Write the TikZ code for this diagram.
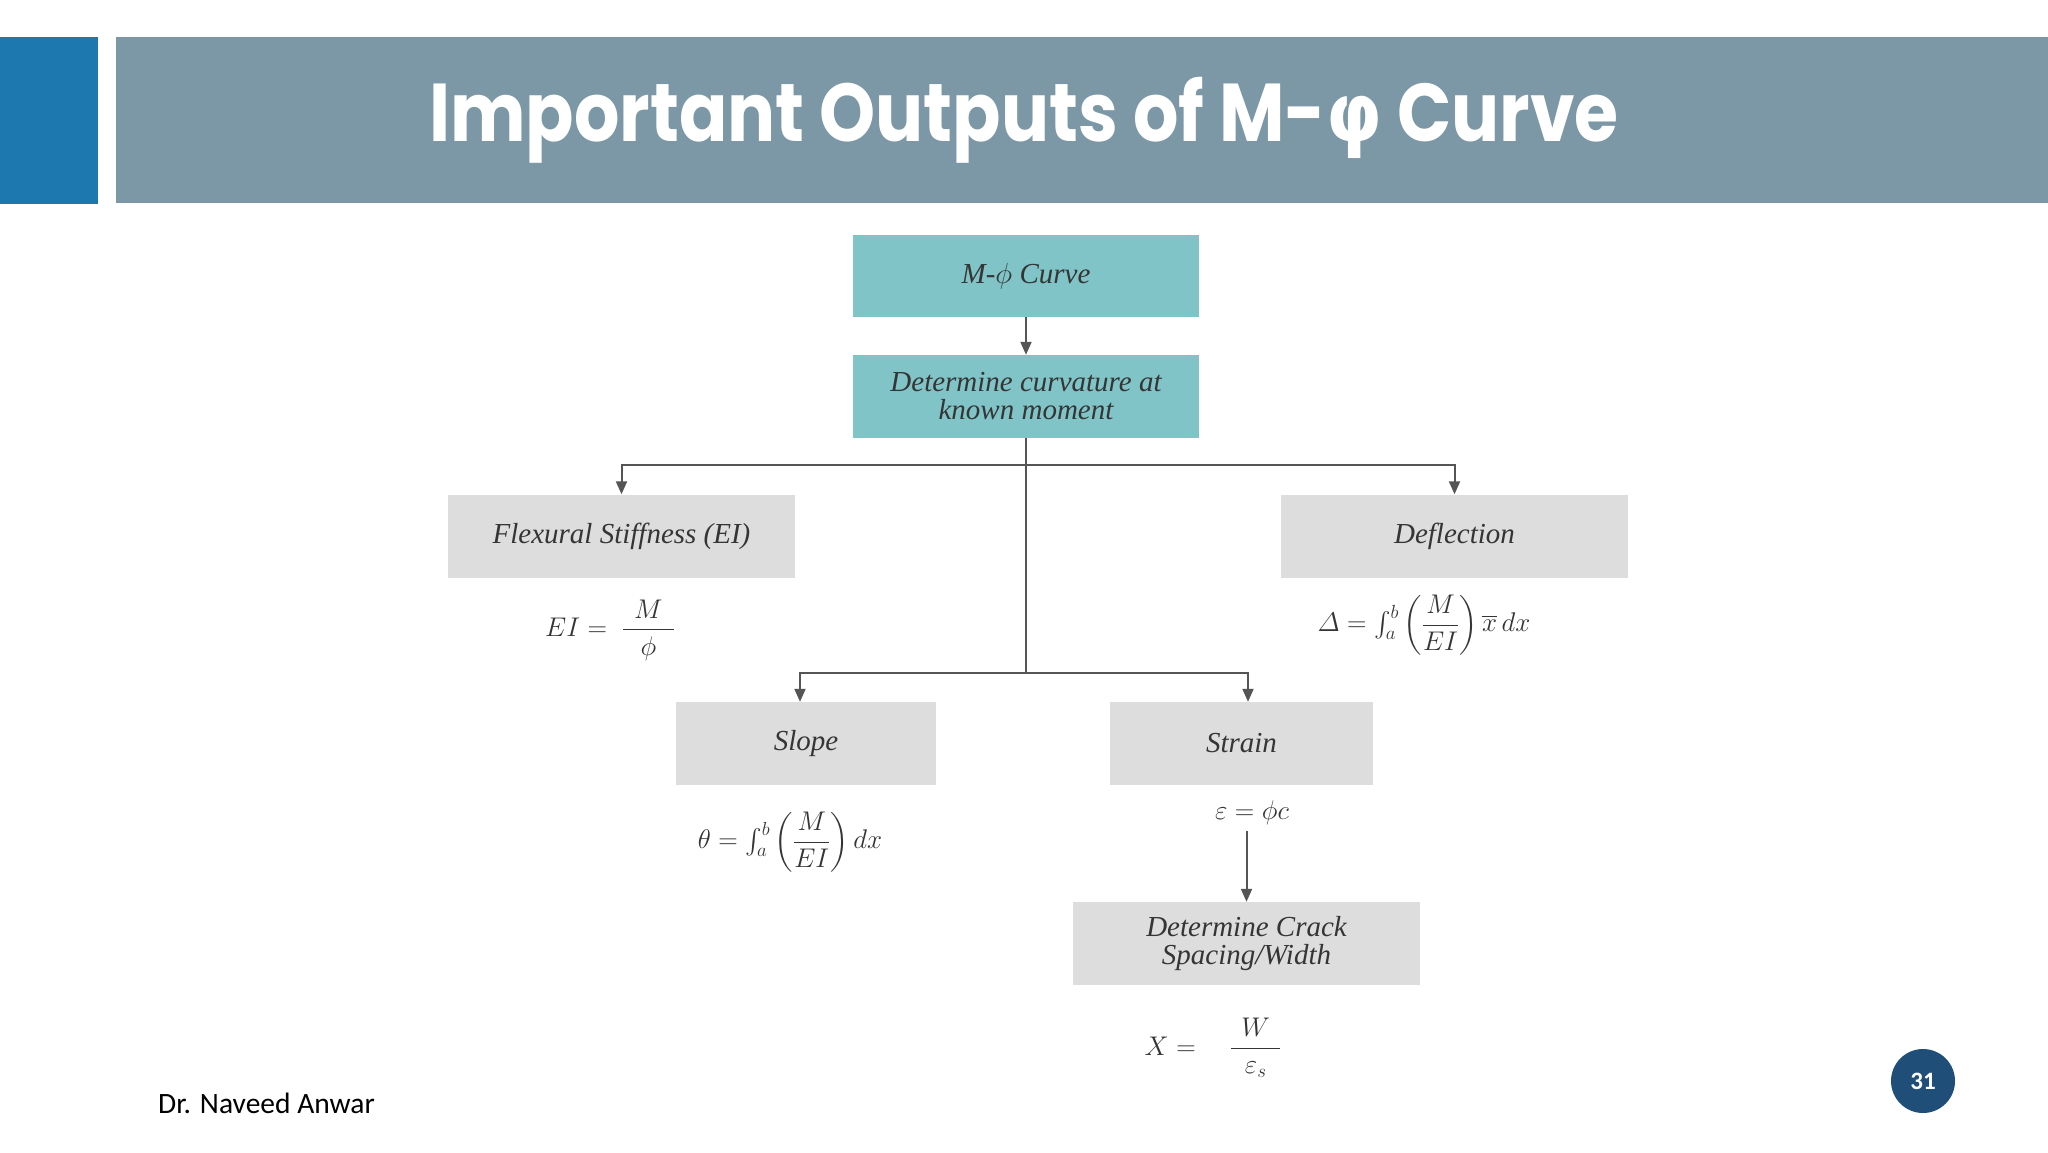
\RequirePackage{fix-cm}
\documentclass[tikz,border=0pt]{standalone}
\usepackage{amsmath}
\usepackage{fontspec}
\setmainfont{Liberation Serif}
\newfontfamily\titlefont{Poppins}
\newfontfamily\greekfont{DejaVu Sans}
\newfontfamily\calibrifont{Carlito}
\usetikzlibrary{arrows.meta}
\definecolor{barblue}{HTML}{1E78B0}
\definecolor{bargray}{HTML}{7C98A6}
\definecolor{tealfill}{HTML}{80C4C8}
\definecolor{grayfill}{HTML}{DEDDDE}
\definecolor{txt}{HTML}{353535}
\definecolor{linecol}{HTML}{555555}
\definecolor{pagecirc}{HTML}{1F4E79}
\tikzset{
  box/.style={rectangle, inner sep=0pt, align=center, text=txt,
    font=\fontsize{29}{28}\selectfont\itshape},
  tealbox/.style={box, fill=tealfill, minimum width=346pt, minimum height=82pt},
  graybox/.style={box, fill=grayfill, minimum height=83pt},
  conn/.style={draw=linecol, line width=2pt},
  arr/.style={conn, -{Triangle[length=13pt,width=11pt]}},
  eq/.style={inner sep=0pt, text=txt, font=\fontsize{27}{29}\selectfont}
}
\begin{document}
\begin{tikzpicture}[x=1pt,y=-1pt]
\useasboundingbox (0,0) rectangle (2048,1152);
\fill[white] (0,0) rectangle (2048,1152);
% title bar
\fill[barblue] (0,37) rectangle (98,204);
\fill[bargray] (116,37) rectangle (2048,203);
\node[anchor=base, text=white, inner sep=0pt] (title) at (1024,141)
  {\scalebox{0.87}[1]{\fontsize{82}{90}\selectfont\titlefont\bfseries Important Outputs of M-{\greekfont\bfseries φ} Curve}};
% boxes
\node[tealbox] (mphi) at (1026,276) {M-$\phi$ Curve};
\node[tealbox, minimum height=83pt] (curv) at (1026,396.5) {Determine curvature at\\known moment};
\node[graybox, minimum width=347pt] (flex) at (621.5,536) {Flexural Stiffness (EI)};
\node[graybox, minimum width=347pt] (defl) at (1454.5,536) {Deflection};
\node[graybox, minimum width=260pt] (slope) at (806,743.5) {Slope};
\node[graybox, minimum width=263pt] (strain) at (1241.5,743.5) {Strain};
\node[graybox, minimum width=347pt] (crack) at (1246.5,943.5) {Determine Crack\\Spacing/Width};
% formulas
\node[eq] (eqEI) at (610,630) {$EI = \;\dfrac{\hspace{11pt}M\hspace{11pt}}{\phi}$};
\node[eq] (eqDefl) at (1424,625) {$\varDelta = {\textstyle\int_a^b}\left(\dfrac{M}{EI}\right)\overline{x}\,dx$};
\node[eq] (eqSlope) at (790,842) {$\theta = {\textstyle\int_a^b}\left(\dfrac{M}{EI}\right)dx$};
\node[eq] (eqStrain) at (1252,813) {$\varepsilon = \phi c$};
\node[eq] (eqX) at (1213,1048) {$X = \quad\dfrac{\hspace{10pt}W\hspace{10pt}}{\varepsilon_s}$};
% junctions
\coordinate (j1) at (1026,465);
\coordinate (j2) at (1026,673);
% connectors
\draw[arr] (mphi.south) -- (curv.north);
\draw[conn] (curv.south) -- (j2);
\draw[arr] (j1) -| (flex.north);
\draw[arr] (j1) -| (defl.north);
\draw[arr] (j2) -| ([xshift=-6pt]slope.north);
\draw[arr] (j2) -| ([xshift=6.5pt]strain.north);
\draw[arr] (crack.north |- eqStrain.south) ++(0,6) -- (crack.north);
% footer
\node[anchor=base west, inner sep=0pt, text=black] (author) at (158,1113)
  {\fontsize{29.5}{32}\selectfont\calibrifont Dr. Naveed Anwar};
\node[circle, fill=pagecirc, minimum size=64pt, inner sep=0pt, text=white,
  font=\fontsize{25}{27}\selectfont\calibrifont\bfseries] (page) at (1923,1081) {31};
\end{tikzpicture}
\end{document}
